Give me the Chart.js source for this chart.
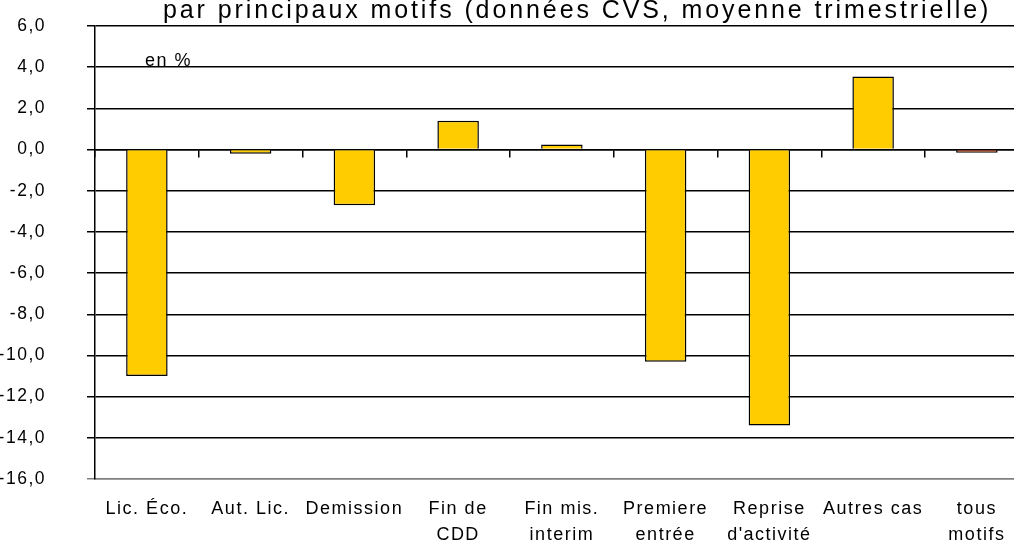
<!DOCTYPE html>
<html>
<head>
<meta charset="utf-8">
<script src="https://cdn.jsdelivr.net/npm/chart.js@4"></script>
<style>
  html, body { margin: 0; padding: 0; background: #fff; overflow: hidden; width: 1014px; height: 546px; }
  #wrap { position: absolute; left: 0; top: 0; width: 1030px; height: 546px; }
  #titre { position: absolute; left: 163px; top: -5px; font: 25px "Liberation Sans", Arial, sans-serif; letter-spacing: 2.9px; white-space: nowrap; color: #000; }
  #unite { position: absolute; left: 145px; top: 50px; font: 18px "Liberation Sans", Arial, sans-serif; letter-spacing: 1.5px; color: #000; }
</style>
</head>
<body>
<div id="wrap"><canvas id="graph" width="1030" height="546"></canvas></div>
<div id="titre">par principaux motifs (données CVS, moyenne trimestrielle)</div>
<div id="unite">en %</div>
<script>
// catégories (motifs d'entrée)
const categories = [['Lic. Éco.'], ['Aut. Lic.'], ['Demission'], ['Fin de', 'CDD'], ['Fin mis.', 'interim'],
  ['Premiere', 'entrée'], ['Reprise', "d'activité"], ['Autres cas'], ['tous', 'motifs']];
// évolution en %
const values = [-11.0, -0.2, -2.7, 1.4, 0.25, -10.3, -13.4, 3.55, -0.15];
const barColors = ['#FFCC00', '#FFCC00', '#FFCC00', '#FFCC00', '#FFCC00', '#FFCC00', '#FFCC00', '#FFCC00', '#B5410F'];
const yMin = -16, yMax = 6, yStep = 2;

const fmt = v => v.toFixed(1).replace('.', ',');

// espacement des lettres comme dans l'original
const espacement = {
  id: 'espacement',
  beforeDraw(chart) { chart.ctx.letterSpacing = '1.5px'; }
};

new Chart(document.getElementById('graph'), {
  type: 'bar',
  data: {
    labels: categories,
    datasets: [{
      data: values,
      backgroundColor: barColors,
      borderColor: '#000',
      borderWidth: 1.5,
      categoryPercentage: 1,
      barPercentage: 0.4,
      xAxisID: 'x'
    }]
  },
  plugins: [espacement],
  options: {
    responsive: false,
    animation: false,
    layout: { padding: { top: 26, right: 1.25, left: 0, bottom: 0 } },
    plugins: { legend: { display: false }, tooltip: { enabled: false } },
    scales: {
      x: {
        position: 'bottom',
        grid: { display: false, drawTicks: false },
        border: { display: true, color: '#808080', width: 1.5 },
        ticks: {
          color: '#000', padding: 17, maxRotation: 0, autoSkip: false,
          font: { family: 'Liberation Sans', size: 18, lineHeight: 1.45 }
        },
        afterFit: s => { s.height = 67; }
      },
      x0: {
        type: 'category',
        labels: categories,
        position: { y: 0 },
        grid: { drawOnChartArea: false, offset: true, tickLength: 7, color: '#000', lineWidth: 1.5 },
        border: { display: true, color: '#000', width: 1.5 },
        ticks: { display: false },
        afterFit: s => { s.height = 0; }
      },
      y: {
        min: yMin, max: yMax,
        ticks: {
          stepSize: yStep, color: '#000', padding: 41,
          font: { family: 'Liberation Sans', size: 17.5 },
          callback: v => fmt(v)
        },
        grid: {
          color: ctx => (ctx.tick && ctx.tick.value === yMin ? '#808080' : '#000'),
          lineWidth: 1.5, tickLength: 8
        },
        border: { display: true, color: '#000', width: 1.5 },
        afterFit: s => { s.width = 95; s.paddingTop = 0; s.paddingBottom = 0; }
      }
    }
  }
});
</script>
</body>
</html>
